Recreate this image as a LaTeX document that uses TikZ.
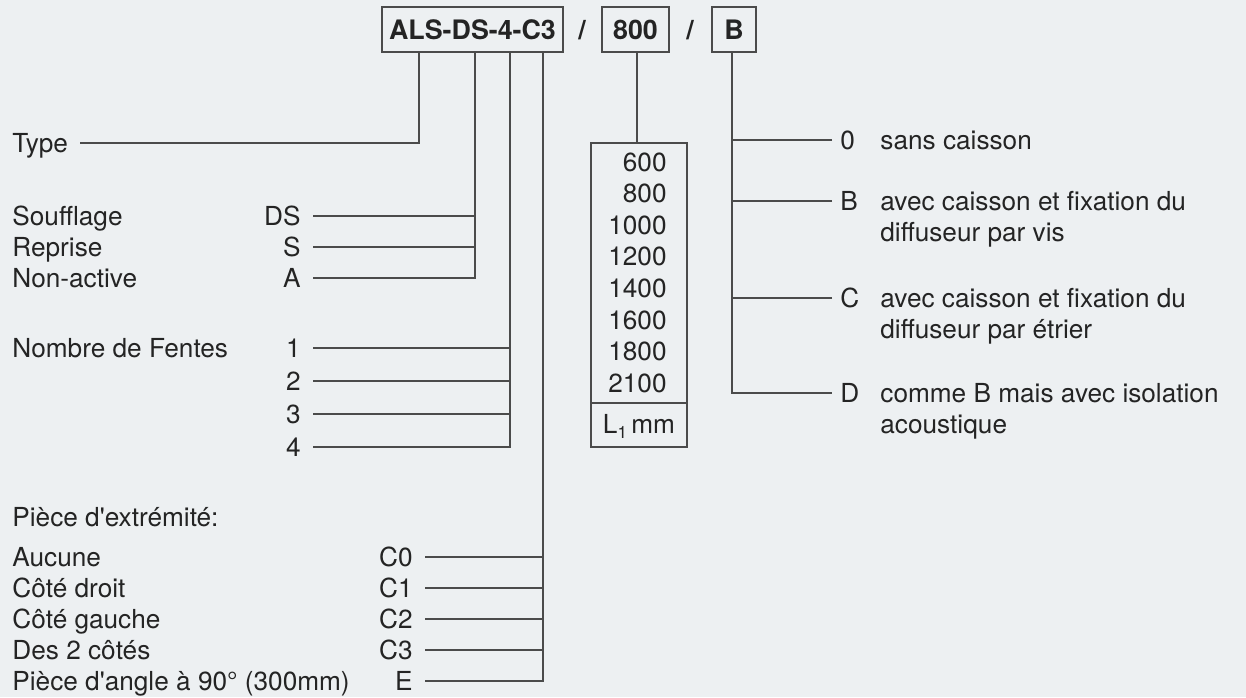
\documentclass[tikz,border=0pt]{standalone}
\usepackage{fontspec}
\setmainfont{TeX Gyre Heros}
\definecolor{bgc}{RGB}{237,240,242}
\definecolor{ink}{RGB}{36,36,36}
\definecolor{wire}{RGB}{75,75,75}
\begin{document}
\begin{tikzpicture}[x=0.5pt,y=-0.5pt,
  lbl/.style={font=\fontsize{13.1}{15}\selectfont, text=ink, inner sep=0pt, text height=9.4pt, text depth=0pt},
  codeL/.style={lbl, anchor=east, inner xsep=6pt},
  codeR/.style={lbl, anchor=west, inner xsep=4pt},
  desc/.style={lbl, anchor=west},
  num/.style={lbl, anchor=east},
  topbox/.style={draw=wire, line width=0.8pt, font=\fontsize{13.4}{15}\selectfont\bfseries, text=ink, inner sep=0pt, minimum height=22.5pt},
  slash/.style={font=\fontsize{13.4}{15}\selectfont\bfseries, text=ink, inner sep=0pt},
  wireline/.style={draw=wire, line width=0.8pt}
]
\fill[bgc] (0,0) rectangle (1246,697);
\useasboundingbox (0,0) rectangle (1246,697);

% top code boxes
\node[topbox, minimum width=90.5pt] (als) at (472.5,29.5) {ALS-DS-4-C3};
\node[slash] (sl1) at (582,30) {/};
\node[topbox, minimum width=33.5pt] (n800) at (635.5,29.5) {800};
\node[slash] (sl2) at (690,30) {/};
\node[topbox, minimum width=22pt] (nB) at (734,29.5) {B};

% bus start points
\coordinate (b1) at (419,52);
\coordinate (b2) at (475,52);
\coordinate (b3) at (510,52);
\coordinate (b4) at (543,52);
\coordinate (c800) at (637,52);
\coordinate (cB) at (732,52);

% Type
\node[lbl, anchor=west] (type) at (12,143) {Type};
\coordinate (typeEnd) at (80,143);
\draw[wireline] (b1) |- (typeEnd);

% Soufflage group
\node[lbl, anchor=west] (souf) at (12,216) {Soufflage};
\node[lbl, anchor=west] (repr) at (12,247) {Reprise};
\node[lbl, anchor=west] (nonact) at (12,278) {Non-active};
\node[codeL] (ds) at (313,216) {DS};
\node[codeL] (s) at (313,247) {S};
\node[codeL] (a) at (313,278) {A};
\draw[wireline] (b2) |- (a.east);
\draw[wireline] (ds.east) -- (ds.east -| b2);
\draw[wireline] (s.east) -- (s.east -| b2);

% Fentes
\node[lbl, anchor=west] (fentes) at (12,348) {Nombre de Fentes};
\node[codeL] (f1) at (313,348) {1};
\node[codeL] (f2) at (313,381) {2};
\node[codeL] (f3) at (313,414) {3};
\node[codeL] (f4) at (313,447) {4};
\draw[wireline] (b3) |- (f4.east);
\draw[wireline] (f1.east) -- (f1.east -| b3);
\draw[wireline] (f2.east) -- (f2.east -| b3);
\draw[wireline] (f3.east) -- (f3.east -| b3);

% Pieces d'extremite
\node[lbl, anchor=west] (piece) at (12,517) {Pièce d\textquotesingle extrémité:};
\node[lbl, anchor=west] (aucune) at (12,557) {Aucune};
\node[lbl, anchor=west] (droit) at (12,588) {Côté droit};
\node[lbl, anchor=west] (gauche) at (12,619) {Côté gauche};
\node[lbl, anchor=west] (deux) at (12,650) {Des 2 côtés};
\node[lbl, anchor=west] (angle) at (12,681) {Pièce d\textquotesingle angle à 90° (300mm)};
\node[codeL] (c0) at (425,557) {C0};
\node[codeL] (c1) at (425,588) {C1};
\node[codeL] (c2) at (425,619) {C2};
\node[codeL] (c3) at (425,650) {C3};
\node[codeL] (ce) at (425,681) {E};
\draw[wireline] (b4) |- (ce.east);
\draw[wireline] (c0.east) -- (c0.east -| b4);
\draw[wireline] (c1.east) -- (c1.east -| b4);
\draw[wireline] (c2.east) -- (c2.east -| b4);
\draw[wireline] (c3.east) -- (c3.east -| b4);

% length box
\node[draw=wire, line width=0.8pt, minimum width=48pt, minimum height=152pt, inner sep=0pt, anchor=north] (lbox) at (639,142) {};
\draw[wireline] (c800) -- (c800 |- lbox.north);
\coordinate (divy) at (0,403);
\draw[wireline] (lbox.west |- divy) -- (lbox.east |- divy);
\node[num] (l600) at (667,162) {600};
\node[num] (l800) at (667,193) {800};
\node[num] (l1000) at (667,225) {1000};
\node[num] (l1200) at (667,256) {1200};
\node[num] (l1400) at (667,288) {1400};
\node[num] (l1600) at (667,320) {1600};
\node[num] (l1800) at (667,351) {1800};
\node[num] (l2100) at (667,383) {2100};
\node[lbl] (lunit) at (639,424) {L\raisebox{-0.35ex}{\fontsize{8.5}{9}\selectfont 1}\,mm};

% B options
\node[codeR] (o0) at (832,140) {0};
\node[codeR] (oB) at (832,201) {B};
\node[codeR] (oC) at (832,298) {C};
\node[codeR] (oD) at (832,393) {D};
\draw[wireline] (cB) |- (oD.west);
\draw[wireline] (o0.west) -- (o0.west -| cB);
\draw[wireline] (oB.west) -- (oB.west -| cB);
\draw[wireline] (oC.west) -- (oC.west -| cB);

\node[desc] (d0) at (880,140) {sans caisson};
\node[desc] (dB1) at (880,201) {avec caisson et fixation du};
\node[desc] (dB2) at (880,232) {diffuseur par vis};
\node[desc] (dC1) at (880,298) {avec caisson et fixation du};
\node[desc] (dC2) at (880,329) {diffuseur par étrier};
\node[desc] (dD1) at (880,393) {comme B mais avec isolation};
\node[desc] (dD2) at (880,424) {acoustique};
\end{tikzpicture}
\end{document}
